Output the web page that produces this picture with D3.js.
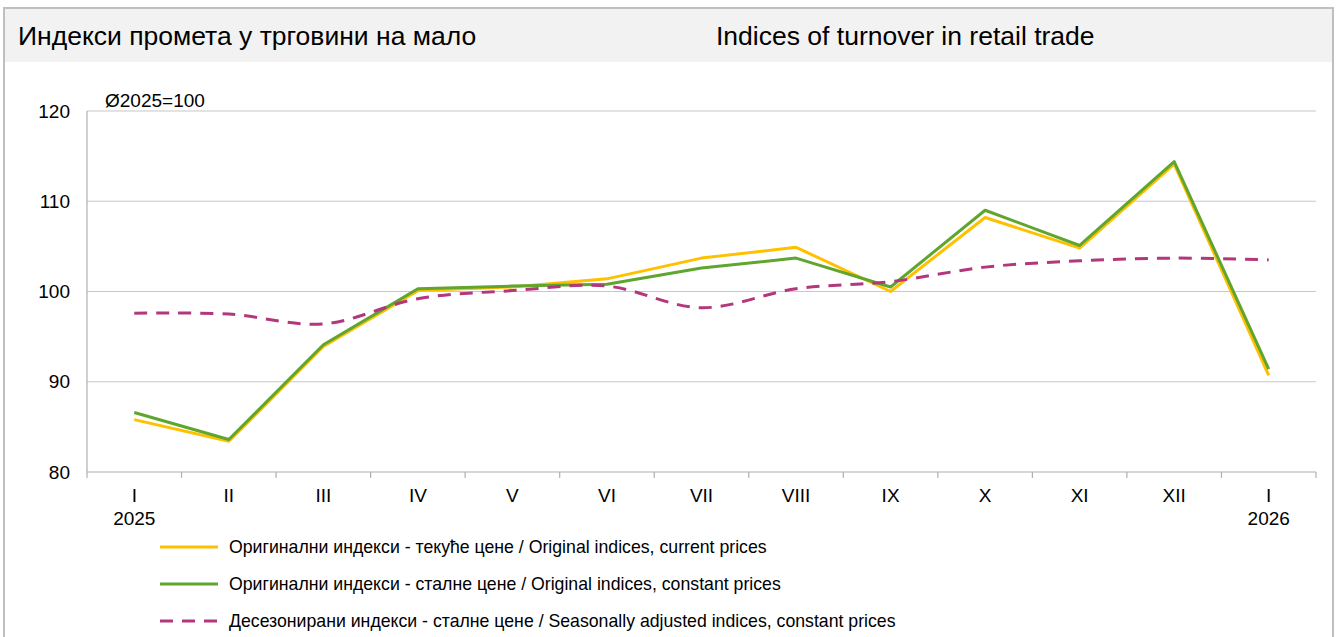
<!DOCTYPE html>
<html>
<head>
<meta charset="utf-8">
<script src="https://cdn.jsdelivr.net/npm/d3@7"></script>
<style>
  body { margin: 0; background: #fff; font-family: "Liberation Sans", Arial, sans-serif; }
  svg text { fill: #000; }
</style>
</head>
<body>
<div id="app"></div>
<script>
const MONTHS = ['I', 'II', 'III', 'IV', 'V', 'VI', 'VII', 'VIII', 'IX', 'X', 'XI', 'XII', 'I'];
const YEARS = ['2025', '', '', '', '', '', '', '', '', '', '', '', '2026'];
const Y_TICKS = [80, 90, 100, 110, 120];

const currentPrices  = [85.8, 83.4, 93.9, 100.1, 100.5, 101.4, 103.7, 104.9, 100.0, 108.2, 104.8, 114.1, 90.7];
const constantPrices = [86.6, 83.6, 94.1, 100.3, 100.6, 100.8, 102.6, 103.7, 100.5, 109.0, 105.1, 114.4, 91.4];
const seasonAdjusted = [97.6, 97.5, 96.4, 99.2, 100.1, 100.6, 98.2, 100.3, 101.1, 102.7, 103.4, 103.7, 103.5];

const SERIES = [
  { name: 'Оригинални индекси - текуће цене / Original indices, current prices', values: currentPrices, color: '#FFC000', dash: null, curve: d3.curveLinear },
  { name: 'Оригинални индекси - сталне цене / Original indices, constant prices', values: constantPrices, color: '#5FA52E', dash: null, curve: d3.curveLinear },
  { name: 'Десезонирани индекси - сталне цене / Seasonally adjusted indices, constant prices', values: seasonAdjusted, color: '#B2377C', dash: '13,9', curve: d3.curveCatmullRom }
];

const W = 1336, H = 637;
const plot = { left: 87, right: 1316, top: 111, bottom: 472 };

const svg = d3.select('#app').append('svg')
    .attr('width', W)
    .attr('height', H);

// frame + header band
svg.append('rect')
    .attr('x', 4).attr('y', 8)
    .attr('width', 1329).attr('height', 54)
    .attr('fill', '#f2f2f2');
svg.append('rect')
    .attr('x', 4).attr('y', 8)
    .attr('width', 1329).attr('height', 660)
    .attr('fill', 'none')
    .attr('stroke', '#bfbfbf')
    .attr('stroke-width', 2);

svg.append('text')
    .attr('x', 18).attr('y', 45)
    .style('font-size', '26.5px')
    .text('Индекси промета у трговини на мало');
svg.append('text')
    .attr('x', 716).attr('y', 45)
    .style('font-size', '26.5px')
    .text('Indices of turnover in retail trade');

const x = d3.scaleBand()
    .domain(d3.range(MONTHS.length))
    .range([plot.left, plot.right]);

const y = d3.scaleLinear()
    .domain([80, 120])
    .range([plot.bottom, plot.top]);

// grid
svg.append('g')
    .selectAll('line')
    .data(Y_TICKS.slice(1))
  .enter().append('line')
    .attr('x1', plot.left).attr('x2', plot.right)
    .attr('y1', d => y(d)).attr('y2', d => y(d))
    .attr('stroke', '#c8c8c8')
    .attr('stroke-width', 1.2);

// y axis
svg.append('line')
    .attr('x1', plot.left).attr('x2', plot.left)
    .attr('y1', plot.top).attr('y2', plot.bottom)
    .attr('stroke', '#b0b0b0')
    .attr('stroke-width', 1.2);

svg.append('g')
    .selectAll('text')
    .data(Y_TICKS)
  .enter().append('text')
    .attr('x', 70)
    .attr('y', d => y(d))
    .attr('dy', '0.35em')
    .style('text-anchor', 'end')
    .style('font-size', '19px')
    .text(d => d);

svg.append('text')
    .attr('x', 105).attr('y', 107)
    .style('font-size', '19px')
    .text('Ø2025=100');

// x axis
svg.append('line')
    .attr('x1', plot.left).attr('x2', plot.right)
    .attr('y1', plot.bottom).attr('y2', plot.bottom)
    .attr('stroke', '#b0b0b0')
    .attr('stroke-width', 1.2);

svg.append('g')
    .selectAll('line')
    .data(d3.range(MONTHS.length + 1))
  .enter().append('line')
    .attr('x1', i => plot.left + i * x.bandwidth())
    .attr('x2', i => plot.left + i * x.bandwidth())
    .attr('y1', plot.bottom).attr('y2', plot.bottom + 6)
    .attr('stroke', '#b0b0b0')
    .attr('stroke-width', 1.2);

const xLabels = svg.append('g')
    .selectAll('g')
    .data(MONTHS)
  .enter().append('g')
    .attr('transform', (d, i) => `translate(${x(i) + x.bandwidth() / 2}, 0)`);

xLabels.append('text')
    .attr('y', 501.5)
    .style('text-anchor', 'middle')
    .style('font-size', '19px')
    .text(d => d);

xLabels.append('text')
    .attr('y', 525)
    .style('text-anchor', 'middle')
    .style('font-size', '19px')
    .text((d, i) => YEARS[i]);

// lines
SERIES.forEach(s => {
  const line = d3.line()
      .x((d, i) => x(i) + x.bandwidth() / 2)
      .y(d => y(d))
      .curve(s.curve);
  svg.append('path')
      .datum(s.values)
      .attr('d', line)
      .attr('fill', 'none')
      .attr('stroke', s.color)
      .attr('stroke-width', 3)
      .attr('stroke-dasharray', s.dash)
      .attr('stroke-linejoin', 'round');
});

// legend
const legend = svg.append('g')
    .selectAll('g')
    .data(SERIES)
  .enter().append('g')
    .attr('transform', (d, i) => `translate(160, ${547 + i * 37})`);

legend.append('line')
    .attr('x1', 0).attr('x2', 58)
    .attr('stroke', d => d.color)
    .attr('stroke-width', 3)
    .attr('stroke-dasharray', d => d.dash);

legend.append('text')
    .attr('x', 69)
    .attr('dy', '0.35em')
    .style('font-size', '17.7px')
    .text(d => d.name);
</script>
</body>
</html>
